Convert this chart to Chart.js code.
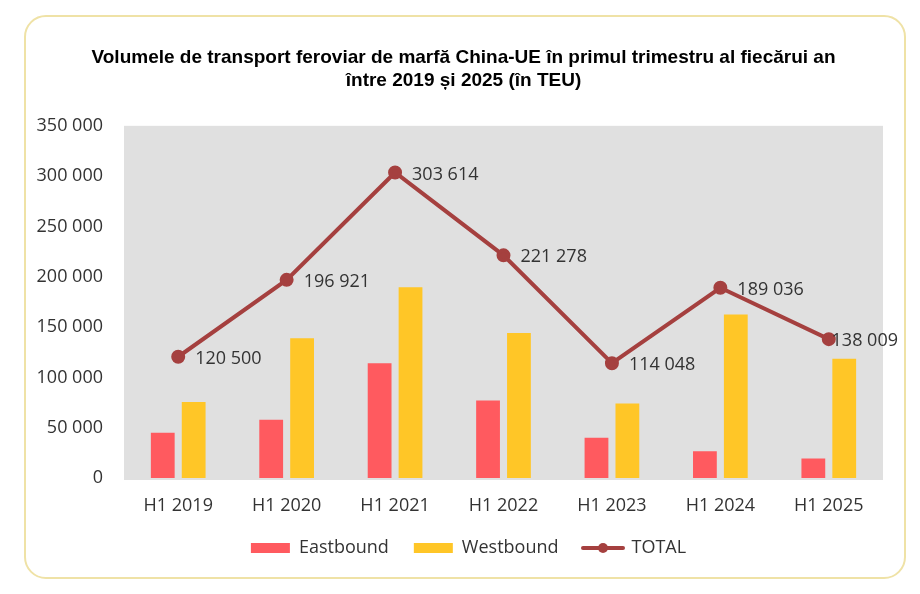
<!DOCTYPE html>
<html>
<head>
<meta charset="utf-8">
<script src="https://cdn.jsdelivr.net/npm/chart.js@4"></script>
<style>
  html, body { margin: 0; padding: 0; background: #fff; }
  #wrap { position: relative; width: 920px; height: 594px; }
  #card { position: absolute; left: 24px; top: 15px; width: 878px; height: 560px;
          border: 2px solid #efe2a6; border-radius: 22px; box-sizing: content-box; }
  #c { position: absolute; left: 0; top: 0; }
</style>
</head>
<body>
<div id="wrap">
  <div id="card"></div>
  <canvas id="c" width="920" height="594"></canvas>
</div>
<script>
const categories = ["H1 2019", "H1 2020", "H1 2021", "H1 2022", "H1 2023", "H1 2024", "H1 2025"];
const eastbound = [45000, 58000, 114000, 77000, 40000, 26500, 19500];
const westbound = [75500, 139000, 189600, 144000, 74000, 162500, 118500];
const total = [120500, 196921, 303614, 221278, 114048, 189036, 138009];
const yTicks = [0, 50000, 100000, 150000, 200000, 250000, 300000, 350000];
const titleLines = ["Volumele de transport feroviar de marfă China-UE în primul trimestru al fiecărui an", "între 2019 și 2025 (în TEU)"];

const fmt = v => String(v).replace(/\B(?=(\d{3})+(?!\d))/g, " ");

const RED = "#ff5a5f", YELLOW = "#ffc627", LINE = "#a5403f", TEXT = "#333333";
const FONT_FAMILY = "'Open Sans', 'Noto Sans', sans-serif";
const TICK_FONT = { family: FONT_FAMILY, size: 18 };

// legend icon for the line series: a line with a dot
const lineIcon = document.createElement("canvas");
lineIcon.width = 44; lineIcon.height = 12;
(function () {
  const g = lineIcon.getContext("2d");
  g.strokeStyle = LINE; g.lineWidth = 4; g.lineCap = "round";
  g.beginPath(); g.moveTo(2, 6); g.lineTo(42, 6); g.stroke();
  g.fillStyle = LINE; g.beginPath(); g.arc(22, 6, 5, 0, Math.PI * 2); g.fill();
})();

const bgPlugin = {
  id: "plotBg",
  beforeDraw(chart) {
    const { ctx, chartArea: a } = chart;
    ctx.save();
    ctx.fillStyle = "#e0e0e0";
    ctx.fillRect(a.left, a.top, a.right - a.left, a.bottom - a.top + 2);
    ctx.restore();
  }
};

// shift title and legend boxes to be centred like the original card
const nudgePlugin = {
  id: "nudge",
  afterLayout(chart) {
    if (chart.legend) { chart.legend.left += 27; chart.legend.right += 27; }
    if (chart.titleBlock) { chart.titleBlock.left += 22; chart.titleBlock.right += 22; }
  }
};

const labelPlugin = {
  id: "lineLabels",
  afterDatasetsDraw(chart) {
    const { ctx, chartArea: a } = chart;
    const meta = chart.getDatasetMeta(2);
    ctx.save();
    ctx.font = "18px " + FONT_FAMILY;
    ctx.fillStyle = TEXT;
    ctx.textBaseline = "middle";
    ctx.textAlign = "left";
    meta.data.forEach((pt, i) => {
      const txt = fmt(total[i]);
      const w = ctx.measureText(txt).width;
      const x = Math.min(pt.x + 17, a.right + 15 - w);
      ctx.fillText(txt, x, pt.y + 2);
    });
    ctx.restore();
  }
};

new Chart(document.getElementById("c"), {
  data: {
    labels: categories,
    datasets: [
      { type: "bar", label: "Eastbound", data: eastbound, backgroundColor: RED,
        categoryPercentage: 0.57, barPercentage: 0.77, order: 2 },
      { type: "bar", label: "Westbound", data: westbound, backgroundColor: YELLOW,
        categoryPercentage: 0.57, barPercentage: 0.77, order: 2 },
      { type: "line", label: "TOTAL", data: total, borderColor: LINE, backgroundColor: LINE,
        borderWidth: 4, pointRadius: 5, pointBackgroundColor: LINE, pointBorderColor: LINE,
        pointHoverRadius: 5, tension: 0, order: 1 }
    ]
  },
  options: {
    responsive: false,
    animation: false,
    devicePixelRatio: 1,
    layout: { padding: { left: 0, right: 37, top: 0, bottom: 27 } },
    plugins: {
      tooltip: { enabled: false },
      title: {
        display: true,
        text: titleLines,
        color: "#000",
        font: { family: "'Liberation Sans', Arial, sans-serif", size: 19, weight: "bold", lineHeight: 1.18 },
        padding: { top: 47, bottom: 34 }
      },
      legend: {
        position: "bottom",
        labels: {
          color: TEXT,
          font: TICK_FONT,
          usePointStyle: true,
          pointStyleWidth: 39,
          boxHeight: 10,
          padding: 25,
          sort: (a, b) => a.datasetIndex - b.datasetIndex,
          generateLabels(chart) {
            const items = Chart.defaults.plugins.legend.labels.generateLabels(chart);
            items.forEach(it => {
              if (it.datasetIndex === 2) { it.pointStyle = lineIcon; }
              else { it.pointStyle = "rect"; it.lineWidth = 0; it.strokeStyle = "rgba(0,0,0,0)"; }
            });
            return items;
          }
        }
      }
    },
    scales: {
      x: {
        offset: true,
        afterFit(scale) { scale.height = 36; },
        grid: { display: false, drawTicks: false },
        border: { display: false },
        ticks: { color: TEXT, font: TICK_FONT, padding: 17 }
      },
      y: {
        min: 0, max: 350000,
        afterBuildTicks(scale) { scale.ticks = yTicks.map(v => ({ value: v })); },
        afterFit(scale) { scale.width = 124; },
        grid: { display: false, drawTicks: false },
        border: { display: false },
        ticks: { color: TEXT, font: TICK_FONT, padding: 21, callback: v => fmt(v) }
      }
    }
  },
  plugins: [bgPlugin, nudgePlugin, labelPlugin]
});
</script>
</body>
</html>
